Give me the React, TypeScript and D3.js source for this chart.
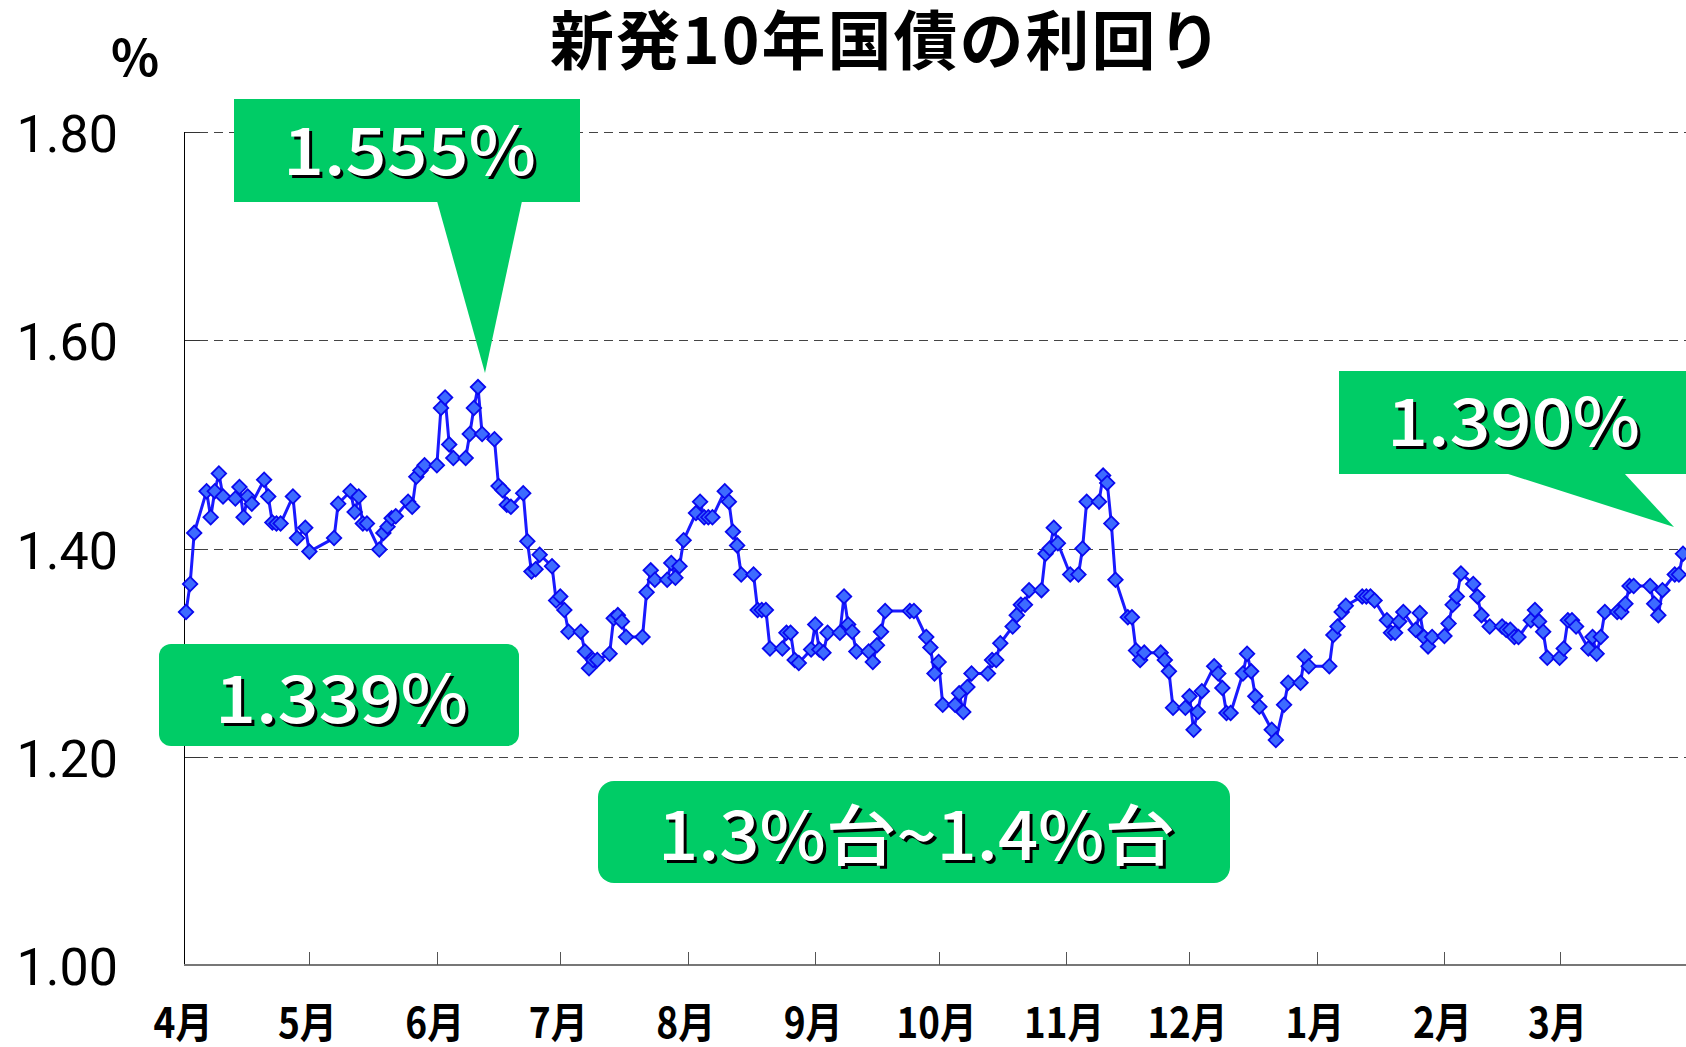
import React from 'react';
import * as d3 from 'd3';

// ---- data: trading days (day of month) and yields (%) for each month, FY2009 ----
const aprDays = [1, 2, 3, 6, 7, 8, 9, 10, 13, 14, 15, 16, 17, 20, 21, 22, 23, 24, 27, 28, 30];
const aprYield = [1.339, 1.366, 1.415, 1.455, 1.43, 1.455, 1.472, 1.45, 1.448, 1.459, 1.43, 1.45, 1.443, 1.466, 1.45, 1.425, 1.424, 1.424, 1.45, 1.41, 1.42];
const mayDays = [1, 7, 8, 11, 12, 13, 14, 15, 18, 19, 20, 21, 22, 25, 26, 27, 28, 29];
const mayYield = [1.397, 1.41, 1.443, 1.455, 1.435, 1.45, 1.424, 1.424, 1.399, 1.415, 1.421, 1.429, 1.431, 1.445, 1.44, 1.469, 1.475, 1.48];
const junDays = [1, 2, 3, 4, 5, 8, 9, 10, 11, 12, 15, 16, 17, 18, 19, 22, 23, 24, 25, 26, 29, 30];
const junYield = [1.48, 1.535, 1.545, 1.5, 1.487, 1.487, 1.51, 1.535, 1.555, 1.51, 1.505, 1.46, 1.456, 1.442, 1.44, 1.453, 1.407, 1.378, 1.38, 1.394, 1.383, 1.35];
const julDays = [1, 2, 3, 6, 7, 8, 9, 10, 13, 14, 15, 16, 17, 21, 22, 23, 24, 27, 28, 29, 30, 31];
const julYield = [1.354, 1.341, 1.32, 1.32, 1.301, 1.285, 1.293, 1.293, 1.299, 1.333, 1.336, 1.33, 1.315, 1.315, 1.358, 1.379, 1.37, 1.37, 1.386, 1.372, 1.383, 1.408];
const augDays = [3, 4, 5, 6, 7, 10, 11, 12, 13, 14, 17, 18, 19, 20, 21, 24, 25, 26, 27, 28, 31];
const augYield = [1.434, 1.445, 1.43, 1.43, 1.43, 1.455, 1.445, 1.416, 1.403, 1.375, 1.375, 1.341, 1.341, 1.341, 1.304, 1.304, 1.319, 1.319, 1.293, 1.29, 1.303];
const sepDays = [1, 2, 3, 4, 7, 8, 9, 10, 11, 14, 15, 16, 17, 18, 24, 25, 28, 29, 30];
const sepYield = [1.327, 1.303, 1.3, 1.319, 1.319, 1.354, 1.327, 1.32, 1.301, 1.301, 1.291, 1.307, 1.32, 1.34, 1.34, 1.34, 1.315, 1.305, 1.28];
const octDays = [1, 2, 5, 6, 7, 8, 9, 13, 14, 15, 16, 19, 20, 21, 22, 23, 26, 27, 28, 29, 30];
const octYield = [1.291, 1.25, 1.25, 1.261, 1.243, 1.267, 1.28, 1.28, 1.293, 1.293, 1.309, 1.325, 1.336, 1.346, 1.346, 1.36, 1.36, 1.395, 1.4, 1.42, 1.405];
const novDays = [2, 4, 5, 6, 9, 10, 11, 12, 13, 16, 17, 18, 19, 20, 24, 25, 26, 27, 30];
const novYield = [1.375, 1.375, 1.4, 1.445, 1.445, 1.47, 1.463, 1.424, 1.37, 1.334, 1.334, 1.302, 1.293, 1.3, 1.3, 1.293, 1.282, 1.247, 1.247];
const decDays = [1, 2, 3, 4, 7, 8, 9, 10, 11, 14, 15, 16, 17, 18, 21, 22, 24, 25, 28, 29, 30];
const decYield = [1.258, 1.226, 1.243, 1.263, 1.287, 1.28, 1.266, 1.242, 1.242, 1.28, 1.299, 1.282, 1.258, 1.248, 1.226, 1.216, 1.25, 1.271, 1.271, 1.296, 1.287];
const janDays = [4, 5, 6, 7, 8, 12, 13, 14, 15, 18, 19, 20, 21, 22, 25, 26, 27, 28, 29];
const janYield = [1.287, 1.317, 1.325, 1.339, 1.345, 1.354, 1.354, 1.354, 1.35, 1.331, 1.319, 1.319, 1.33, 1.339, 1.322, 1.338, 1.315, 1.306, 1.315];
const febDays = [1, 2, 3, 4, 5, 8, 9, 10, 12, 15, 16, 17, 18, 19, 22, 23, 24, 25, 26];
const febYield = [1.316, 1.328, 1.346, 1.354, 1.376, 1.366, 1.354, 1.336, 1.325, 1.325, 1.322, 1.322, 1.315, 1.315, 1.331, 1.341, 1.33, 1.32, 1.295];
const marDays = [1, 2, 3, 4, 5, 8, 9, 10, 11, 12, 15, 16, 17, 18, 19, 23, 24, 25, 26, 29, 30, 31];
const marYield = [1.295, 1.304, 1.331, 1.331, 1.325, 1.304, 1.315, 1.299, 1.315, 1.339, 1.339, 1.339, 1.347, 1.364, 1.364, 1.364, 1.347, 1.336, 1.36, 1.375, 1.375, 1.395];

const monthLabels = ['4月', '5月', '6月', '7月', '8月', '9月', '10月', '11月', '12月', '1月', '2月', '3月'];
const yTicks = [1.0, 1.2, 1.4, 1.6, 1.8];
const titleText = '新発10年国債の利回り';
const unitText = '%';
const peakLabel = '1.555%';
const lastLabel = '1.390%';
const firstLabel = '1.339%';
const rangeLabel = '1.3%台~1.4%台';

// year, monthIndex pairs for each month block
const monthBlocks: [number, number, number[], number[]][] = [
  [2009, 3, aprDays, aprYield],
  [2009, 4, mayDays, mayYield],
  [2009, 5, junDays, junYield],
  [2009, 6, julDays, julYield],
  [2009, 7, augDays, augYield],
  [2009, 8, sepDays, sepYield],
  [2009, 9, octDays, octYield],
  [2009, 10, novDays, novYield],
  [2009, 11, decDays, decYield],
  [2010, 0, janDays, janYield],
  [2010, 1, febDays, febYield],
  [2010, 2, marDays, marYield],
];

type Pt = { date: Date; v: number };

const series: Pt[] = monthBlocks.flatMap(([yr, mo, days, vals]) =>
  days.map((d, i) => ({ date: new Date(yr, mo, d), v: vals[i] }))
);

const GREEN = '#00cc66';
const JP = '"Noto Sans CJK JP", "Noto Sans", sans-serif';

function ShadowText(props: { x: number; y: number; text: string; len: number; size: number }) {
  const { x, y, text, len, size } = props;
  const common = {
    fontFamily: JP,
    fontWeight: 500,
    fontSize: size,
    textLength: len,
    lengthAdjust: 'spacingAndGlyphs' as const,
  };
  return (
    <g>
      <text x={x + 3} y={y + 3} fill="#000" {...common}>{text}</text>
      <text x={x} y={y} fill="#fff" {...common}>{text}</text>
    </g>
  );
}

export default function App() {
  const W = 1686;
  const H = 1047;
  const axisX = 184;
  const x = d3.scaleTime().domain([new Date(2009, 3, 1), new Date(2010, 2, 31)]).range([186, 1683]);
  const y = d3.scaleLinear().domain([1.0, 1.8]).range([965, 132]);
  const line = d3.line<Pt>().x((d) => x(d.date)).y((d) => y(d.v));
  const diamond = d3.symbol(d3.symbolSquare, 105)() as string;
  const monthStarts = d3.timeMonth.range(new Date(2009, 3, 1), new Date(2010, 3, 1));
  const fmt = d3.format('.2f');

  return (
    <svg
      width={W}
      height={H}
      style={{ position: 'absolute', left: 0, top: 0, background: '#fff' }}
    >
      <rect x={0} y={0} width={W} height={H} fill="#fff" />
      {/* title */}
      <text x={550} y={64} fontFamily={JP} fontWeight={700} fontSize={64} letterSpacing={2} fill="#000">
        {titleText}
      </text>
      <text x={111} y={76} fontFamily={JP} fontWeight={700} fontSize={50} fill="#000">
        {unitText}
      </text>

      {/* gridlines */}
      {yTicks.filter((t) => t > 1.0).map((t) => (
        <line key={'g' + t} x1={axisX} x2={W} y1={Math.round(y(t)) + 0.5} y2={Math.round(y(t)) + 0.5} stroke="#444" strokeWidth={1} strokeDasharray="9,6" />
      ))}
      {/* y tick marks */}
      {yTicks.map((t) => (
        <line key={'yt' + t} x1={axisX} x2={axisX + 16} y1={Math.round(y(t)) + 0.5} y2={Math.round(y(t)) + 0.5} stroke="#333" strokeWidth={1} />
      ))}
      {/* y labels */}
      {yTicks.map((t) => (
        <text key={'yl' + t} x={118} y={y(t) + 20} textAnchor="end" fontFamily="Roboto, sans-serif" fontSize={52} fill="#000">
          {fmt(t)}
        </text>
      ))}
      {/* y axis */}
      <line x1={axisX + 0.5} x2={axisX + 0.5} y1={y(1.8)} y2={y(1.0)} stroke="#000" strokeWidth={1} />
      {/* x axis */}
      <line x1={axisX} x2={W} y1={y(1.0)} y2={y(1.0)} stroke="#777" strokeWidth={2} />
      {monthStarts.map((m, i) => (
        i === 0 ? null : (
          <line key={'xt' + i} x1={Math.round(x(m)) + 0.5} x2={Math.round(x(m)) + 0.5} y1={y(1.0)} y2={y(1.0) - 13} stroke="#555" strokeWidth={1} />
        )
      ))}
      {monthStarts.map((m, i) => {
        const cx = i === 0 ? axisX - 1 : x(m) - 2;
        const w = monthLabels[i].length === 2 ? 59 : 80;
        return (
          <text
            key={'xl' + i}
            x={cx - w / 2}
            y={1038}
            fontFamily={JP}
            fontWeight={700}
            fontSize={42}
            textLength={w}
            lengthAdjust="spacingAndGlyphs"
            fill="#000"
          >
            {monthLabels[i]}
          </text>
        );
      })}

      {/* callout shapes */}
      <rect x={234} y={99} width={346} height={103} fill={GREEN} />
      <polygon points="437,201 522,201 485,373" fill={GREEN} />
      <rect x={1339} y={371} width={360} height={103} fill={GREEN} />
      <polygon points="1505,473 1624,473 1674,527" fill={GREEN} />

      {/* series */}
      <path d={line(series) || ''} fill="none" stroke="#1a1aff" strokeWidth={3} strokeLinejoin="round" />
      {series.map((p, i) => (
        <path
          key={'m' + i}
          d={diamond}
          transform={`translate(${x(p.date)},${y(p.v)}) rotate(45)`}
          fill="#3d6bff"
          stroke="#0a0aee"
          strokeWidth={1.8}
        />
      ))}

      {/* rounded boxes */}
      <rect x={159} y={644} width={360} height={102} rx={12} fill={GREEN} />
      <rect x={598} y={781} width={632} height={102} rx={16} fill={GREEN} />

      <ShadowText x={283} y={175} text={peakLabel} len={253} size={66} />
      <ShadowText x={1387} y={446} text={lastLabel} len={253} size={66} />
      <ShadowText x={215} y={723} text={firstLabel} len={253} size={66} />
      <ShadowText x={658} y={860} text={rangeLabel} len={517} size={66} />
    </svg>
  );
}
